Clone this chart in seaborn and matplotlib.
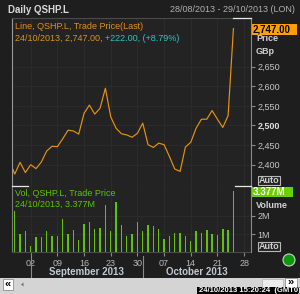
import numpy as np
import pandas as pd
import seaborn as sns
import matplotlib.pyplot as plt
from matplotlib.patches import Rectangle, Circle, Polygon
from matplotlib.lines import Line2D
from matplotlib.transforms import Affine2D, blended_transform_factory

# trading sessions; 27/08 only feeds the clipped first segment of the line
days = pd.bdate_range("2013-08-27", "2013-10-24")
axis_days = pd.bdate_range("2013-08-27", "2013-10-29")

price = [2411, 2376, 2406, 2380, 2400, 2390, 2407, 2435, 2447, 2446,
         2466, 2488, 2486, 2478, 2531, 2552, 2529, 2544, 2595, 2522,
         2493, 2479, 2476, 2470, 2480, 2506, 2451, 2444, 2455, 2451,
         2421, 2389, 2383, 2445, 2457, 2493, 2516, 2516, 2538, 2516,
         2495, 2525, 2747]

# volume in millions, from 28/08
volume_m = [2.29, 0.99, 1.19, 0.33, 0.85, 0.85, 1.16, 0.90, 0.90, 1.84,
            1.01, 1.23, 0.68, 1.54, 1.69, 1.29, 1.32, 2.61, 1.16, 2.79,
            1.49, 0.88, 0.99, 1.67, 1.19, 1.51, 1.45, 1.29, 0.73, 0.90,
            1.08, 1.08, 0.90, 0.64, 1.18, 1.08, 1.21, 1.03, 0.95, 1.29,
            1.21, 3.377]

price_ticks = [2400, 2450, 2500, 2550, 2600, 2650]
vol_ticks = [1, 2]
vol_tick_labels = ["1M", "2M"]
months = ["September 2013", "October 2013"]

BG = "#1e1e1e"
PANEL = "#232323"
GRID = "#2d2d2d"
ORANGE = "#e8920e"
GREEN = "#5cc400"
CYAN = "#2ec4c4"
LIGHT = "#c8c8c8"

plt.rcParams['font.family'] = ['Liberation Sans', 'DejaVu Sans']

W, H = 300, 294
fig = plt.figure(figsize=(W / 100, H / 100), dpi=100, facecolor=BG)
# pixel coords, origin top-left
px = Affine2D().scale(0.01, -0.01).translate(0, H / 100) + fig.dpi_scale_trans

L, R = 11.5, 250.5
ax_p = fig.add_axes([L / W, 1 - 185.5 / H, (R - L) / W, (185.5 - 18) / H])
ax_v = fig.add_axes([L / W, 1 - 252.3 / H, (R - L) / W, (252.3 - 185.5) / H])

pos = np.arange(len(days))
df_p = pd.DataFrame({"pos": pos, "price": price})
df_v = pd.DataFrame({"pos": pos[1:], "vol": volume_m})

sns.lineplot(data=df_p, x="pos", y="price", ax=ax_p, color=ORANGE, linewidth=0.85)
sns.barplot(data=df_v, x="pos", y="vol", ax=ax_v, native_scale=True, width=0.28,
            color=GREEN, saturation=1, errorbar=None, linewidth=0)

# x positions of mondays and month starts on the trading-day axis
day_idx = {d: i for i, d in enumerate(axis_days)}
mondays = [d for d in axis_days if d.weekday() == 0 and d >= pd.Timestamp("2013-09-01")]
mon_pos = [day_idx[d] for d in mondays]
month_start = [day_idx[axis_days[axis_days.month == m][0]] for m in (9, 10)]

xlim = (0.4, 45.2)
for ax in (ax_p, ax_v):
    ax.set_facecolor(PANEL)
    ax.set_xlim(*xlim)
    ax.set_xticks(mon_pos)
    ax.yaxis.tick_right()
    ax.set_xlabel("")
    ax.set_ylabel("")
    ax.grid(True, color=GRID, linewidth=0.6)
    ax.set_axisbelow(True)
    ax.tick_params(axis="y", colors="#8a8a8a", labelcolor=LIGHT, labelsize=6.5,
                   length=3, width=0.8, pad=2)
    for s in ax.spines.values():
        s.set_linewidth(0.8)

ax_p.set_ylim(2347, 2774)
ax_p.set_yticks(price_ticks)
ax_p.set_yticklabels([f"{v:,}" for v in price_ticks])
for t in ax_p.get_yticklabels():
    if t.get_text() == "2,500":
        t.set_fontweight("bold")
        t.set_color("#e0e0e0")
ax_p.tick_params(axis="x", bottom=False, labelbottom=False)
ax_p.spines["left"].set_color("#9a9a9a")
ax_p.spines["top"].set_color("#4a4a4a")
ax_p.spines["bottom"].set_color("#555555")
ax_p.spines["right"].set_color("#8a8a8a")

ax_v.set_ylim(0, 3.68)
ax_v.set_yticks(vol_ticks)
ax_v.set_yticklabels(vol_tick_labels)
ax_v.set_xticklabels([f"{d.day:02d}" for d in mondays])
ax_v.tick_params(axis="x", colors="#8a8a8a", labelcolor="#b8b8b8", labelsize=6.5,
                 length=3, width=0.8, pad=1.5)
ax_v.spines["left"].set_color("#7a7a7a")
ax_v.spines["top"].set_visible(False)
ax_v.spines["bottom"].set_color("#4a4a4a")
ax_v.spines["right"].set_color("#8a8a8a")

# month labels and separators under the date ticks
bt = blended_transform_factory(ax_v.transData, ax_v.transAxes)
edges = month_start + [xlim[1]]
for i, name in enumerate(months):
    ax_v.text((edges[i] + edges[i + 1]) / 2, -0.3, name, transform=bt, ha="center",
              va="center", fontsize=7, fontweight="bold", color="#c0c8d0", clip_on=False)
for m in month_start:
    ax_v.plot([m, m], [-0.05, -0.39], transform=bt, color="#8a8a8a", lw=0.8, clip_on=False)

# header
fig.text(8, 10, "Daily QSHP.L", transform=px, fontsize=7, fontweight="bold",
         color="#d8d8d8", va="center")
fig.text(295, 10, "28/08/2013 - 29/10/2013 (LON)", transform=px, fontsize=6.5,
         color="#b0b0b0", va="center", ha="right")

# legends
fig.text(15, 26.5, "Line, QSHP.L, Trade Price(Last)", transform=px, fontsize=6.5,
         color="#e0901a", va="center")
t1 = fig.text(15, 38.5, "24/10/2013, 2,747.00, ", transform=px, fontsize=6.5,
              color="#e0901a", va="center")
ax_p.annotate("+222.00, (+8.79%)", xy=(1, 0.5), xycoords=t1, va="center",
              fontsize=6.5, color=CYAN, annotation_clip=False)
fig.text(15, 193.5, "Vol, QSHP.L, Trade Price", transform=px, fontsize=6.5,
         color=GREEN, va="center")
fig.text(15, 204.5, "24/10/2013, 3.377M", transform=px, fontsize=6.5,
         color=GREEN, va="center")

# right-hand labels
fig.add_artist(Rectangle((251.5, 23.5), 45.5, 11.5, transform=px, facecolor="#ffa000",
                         edgecolor="none"))
fig.text(253, 29.3, "2,747.00", transform=px, fontsize=7, fontweight="bold",
         color="black", va="center")
fig.text(256, 38.8, "Price", transform=px, fontsize=6.5, fontweight="bold",
         color="#d0d0d0", va="center")
fig.text(256, 51, "GBp", transform=px, fontsize=6.5, fontweight="bold",
         color="#d0d0d0", va="center")
fig.add_artist(Rectangle((252, 187), 41, 10, transform=px, facecolor="#6ad000",
                         edgecolor="none"))
fig.text(253, 192, "3.377M", transform=px, fontsize=7, fontweight="bold",
         color="white", va="center")
fig.text(256, 205, "Volume", transform=px, fontsize=6.5, fontweight="bold",
         color="#d0d0d0", va="center")
for y0 in (175.5, 241.8):
    fig.add_artist(Rectangle((257.5, y0), 22.5, 9.5, transform=px, facecolor=PANEL,
                             edgecolor="#b8b8b8", lw=0.8))
    fig.text(268.7, y0 + 4.9, "Auto", transform=px, fontsize=6.5, fontweight="bold",
             color="#d0d0d0", va="center", ha="center")

# small highlights on the panel border
for xs, y in (((233, 250.5), 18), ((12, 28), 185.5), ((235, 250.5), 185.5)):
    fig.add_artist(Line2D(xs, (y, y), transform=px, color="#e8e8e8", lw=0.9))

fig.add_artist(Circle((289, 260), 6, transform=px, facecolor="#0c9a0c",
                      edgecolor="#d0d0d0", lw=0.8))

# scrollbar
fig.add_artist(Rectangle((0, 277.5), 300, 17, transform=px, facecolor="#d4d4d4",
                         edgecolor="none"))
fig.add_artist(Rectangle((3, 279), 10, 11, transform=px, facecolor="white",
                         edgecolor="#909090", lw=0.6))
fig.text(8, 284.5, "«", transform=px, fontsize=8, fontweight="bold", color="black",
         ha="center", va="center")
fig.add_artist(Polygon([(21, 284.5), (23.5, 282.5), (23.5, 286.5)], transform=px,
                       facecolor="#707070", edgecolor="none"))
fig.add_artist(Rectangle((262, 278.5), 21, 8, transform=px, facecolor="#ececec",
                         edgecolor="#b0b0b0", lw=0.5))
fig.add_artist(Rectangle((285, 278), 12, 8.5, transform=px, facecolor="white",
                         edgecolor="#909090", lw=0.6))
fig.text(291, 282.5, "»", transform=px, fontsize=8, fontweight="bold", color="black",
         ha="center", va="center")
fig.add_artist(Rectangle((197, 286.5), 103, 8, transform=px, facecolor="black",
                         edgecolor="none"))
fig.text(199, 290.5, "24/10/2013 15:20:24  (GMT0)", transform=px, fontsize=5.5,
         fontweight="bold", color="white", va="center")

fig.savefig("out.png", dpi=100, facecolor=BG)
